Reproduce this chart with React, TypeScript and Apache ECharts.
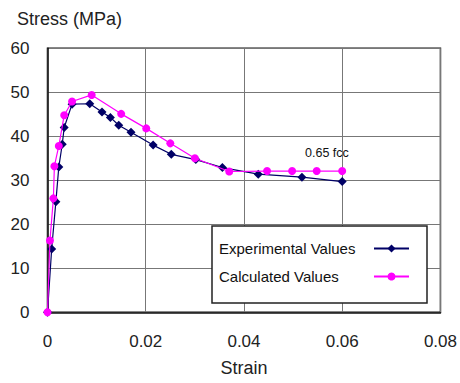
import React, { useEffect, useRef } from "react";
import * as echarts from "echarts";

const expStrain = [0, 0.00085, 0.0017, 0.0023, 0.003, 0.0034, 0.005, 0.0086, 0.0111, 0.0128, 0.0145, 0.017, 0.0215, 0.0252, 0.0302, 0.0356, 0.0429, 0.0518, 0.06];
const expStress = [0, 14.4, 25.1, 33.0, 38.2, 42.0, 47.3, 47.4, 45.5, 44.3, 42.5, 40.9, 38.0, 35.9, 34.7, 32.9, 31.4, 30.7, 29.7];

const calStrain = [0, 0.0005, 0.0012, 0.0014, 0.0023, 0.0034, 0.005, 0.009, 0.015, 0.0201, 0.025, 0.030, 0.037, 0.0447, 0.0498, 0.0548, 0.06];
const calStress = [0, 16.3, 25.9, 33.2, 37.8, 44.8, 47.9, 49.4, 45.1, 41.8, 38.4, 35.0, 32.0, 32.1, 32.1, 32.1, 32.1];

const xTicks = { min: 0, max: 0.08, interval: 0.02 };
const yTicks = { min: 0, max: 60, interval: 10 };

const FONT = "Liberation Sans, Arial, sans-serif";

export default function App() {
  const ref = useRef<HTMLDivElement>(null);
  useEffect(() => {
    if (!ref.current) return;
    const chart = echarts.init(ref.current, undefined, { renderer: "svg" });
    const expData = expStrain.map((x, i) => [x, expStress[i]]);
    const calData = calStrain.map((x, i) => [x, calStress[i]]);
    chart.setOption({
      animation: false,
      backgroundColor: "#fff",
      textStyle: { fontFamily: FONT },
      grid: {
        left: 47.5,
        right: 17.5,
        top: 48.3,
        bottom: 70.7,
        show: true,
        borderColor: "#111",
        borderWidth: 1.5,
      },
      xAxis: {
        type: "value",
        min: xTicks.min,
        max: xTicks.max,
        interval: xTicks.interval,
        name: "Strain",
        nameLocation: "middle",
        nameGap: 47,
        nameTextStyle: { fontSize: 18, color: "#222", fontFamily: FONT },
        axisLine: { lineStyle: { color: "#111", width: 1.5 } },
        axisTick: { show: false },
        axisLabel: {
          fontSize: 17,
          margin: 21,
          color: "#222",
          fontFamily: FONT,
          formatter: (v: number) => String(+v.toFixed(2)),
        },
        splitLine: { show: true, lineStyle: { color: "#777", width: 1 } },
      },
      yAxis: {
        type: "value",
        min: yTicks.min,
        max: yTicks.max,
        interval: yTicks.interval,
        axisLine: { show: true, lineStyle: { color: "#111", width: 1.5 } },
        axisTick: { show: false },
        axisLabel: { fontSize: 17, margin: 18, color: "#222", fontFamily: FONT },
        splitLine: { show: true, lineStyle: { color: "#777", width: 1 } },
      },
      legend: {
        orient: "vertical",
        left: 212,
        top: 226,
        align: "right",
        padding: [15, 17, 19, 7],
        itemGap: 13,
        itemWidth: 35,
        itemHeight: 10,
        borderColor: "#222",
        borderWidth: 1.5,
        backgroundColor: "#fff",
        formatter: (name: string) => `{a|${name}}`,
        textStyle: {
          fontSize: 15,
          color: "#111",
          fontFamily: FONT,
          rich: { a: { width: 150, align: "left", fontSize: 15, color: "#111", fontFamily: FONT } },
        },
        data: ["Experimental Values", "Calculated Values"],
      },
      graphic: [
        {
          type: "text",
          left: 17,
          top: 10,
          style: { text: "Stress (MPa)", fontSize: 18, fill: "#222", fontFamily: FONT },
        },
        {
          type: "text",
          left: 305,
          top: 146,
          z: 10,
          style: { text: "0.65 fcc", fontSize: 12.5, fill: "#111", fontFamily: FONT },
        },
      ],
      series: [
        {
          name: "Experimental Values",
          type: "line",
          data: expData,
          symbol: "diamond",
          symbolSize: 9,
          color: "#000066",
          lineStyle: { color: "#000066", width: 1.2 },
          itemStyle: { color: "#000066" },
          z: 2,
        },
        {
          name: "Calculated Values",
          type: "line",
          data: calData,
          symbol: "circle",
          symbolSize: 8,
          color: "#ff00ff",
          lineStyle: { color: "#ff00ff", width: 1.2 },
          itemStyle: { color: "#ff00ff" },
          z: 3,
        },
      ],
    });
    return () => chart.dispose();
  }, []);
  return <div ref={ref} style={{ width: 460, height: 383, position: "absolute", left: 0, top: 0 }} />;
}
